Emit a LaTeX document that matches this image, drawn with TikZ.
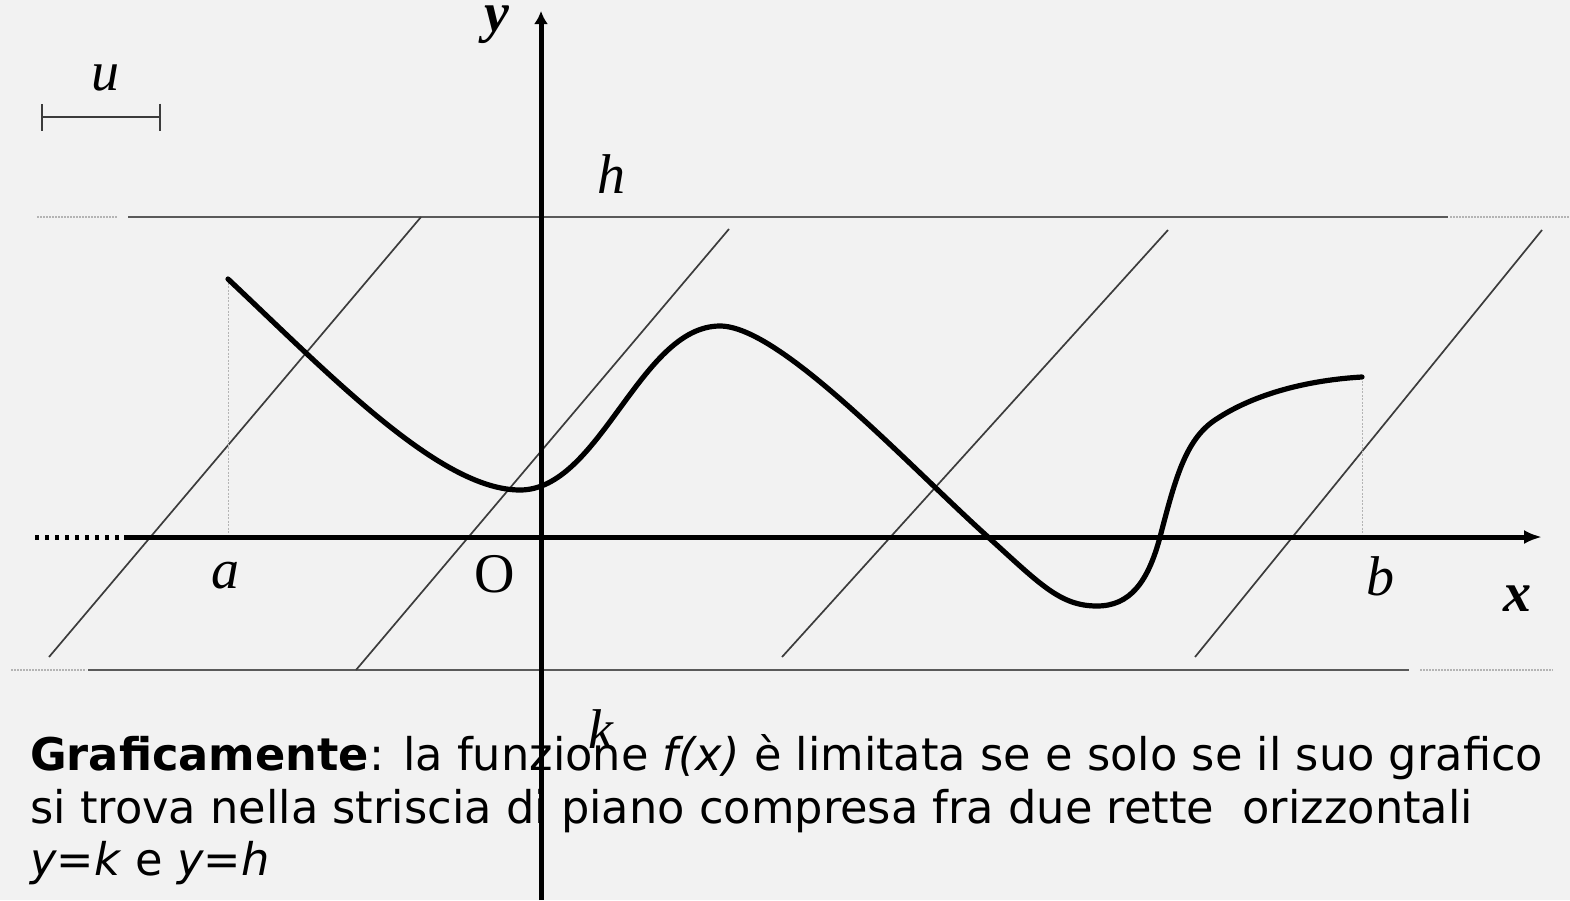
\documentclass[tikz,border=0pt]{standalone}
\usepackage{fontspec}
\setmainfont{Liberation Serif}
\newfontfamily\txtfont[FakeStretch=0.993]{DejaVu Sans}
\usetikzlibrary{arrows.meta}
\definecolor{bgc}{HTML}{F2F2F2}
\definecolor{linec}{HTML}{5A5A5A}
\definecolor{diagc}{HTML}{3C3C3C}
\definecolor{dotc}{HTML}{B4B4B4}
\tikzset{
  axisline/.style={line width=5pt, black},
  curveline/.style={line width=5.2pt, black, line cap=round},
  boundline/.style={line width=2.8pt, linec},
  boundext/.style={line width=1.5pt, dotc, dash pattern=on 2pt off 1pt},
  diagline/.style={line width=1.7pt, diagc},
  dropline/.style={line width=1pt, dotc, dash pattern=on 2pt off 1.5pt},
  lbl/.style={font=\fontsize{56}{56}\selectfont\itshape, inner sep=0pt, anchor=base west},
  txt/.style={font=\txtfont\fontsize{45}{53}\selectfont, inner sep=0pt, anchor=base west}
}
\begin{document}
\begin{tikzpicture}[x=1pt, y=-1pt]
\useasboundingbox (0,0) rectangle (1570,900);
\fill[bgc] (0,0) rectangle (1570,900);

% text paragraph
\node[txt] (t1) at (30,770) {\textbf{Graficamente}: la funzione \textit{f(x)} è limitata se e solo se il suo grafico};
\node[txt] (t2) at (30,823) {si trova nella striscia di piano compresa fra due rette \ orizzontali};
\node[txt] (t3) at (30,875) {\textit{y=k} e \textit{y=h}};

% bounding lines h and k
\coordinate (hL0) at (37,217); \coordinate (hL1) at (117,217);
\coordinate (hA) at (128,217); \coordinate (hB) at (1448,217);
\coordinate (hR0) at (1450,217); \coordinate (hR1) at (1570,217);
\draw[boundext] (hL0) -- (hL1);
\draw[boundline] (hA) -- (hB);
\draw[boundext] (hR0) -- (hR1);
\coordinate (kL0) at (11,670); \coordinate (kL1) at (86,670);
\coordinate (kA) at (88,670); \coordinate (kB) at (1409,670);
\coordinate (kR0) at (1420,670); \coordinate (kR1) at (1553,670);
\draw[boundext] (kL0) -- (kL1);
\draw[boundline] (kA) -- (kB);
\draw[boundext] (kR0) -- (kR1);

% diagonal hatching
\coordinate (d1a) at (49,657);   \coordinate (d1b) at (421,217);
\coordinate (d2a) at (356,670);  \coordinate (d2b) at (729,229);
\coordinate (d3a) at (782,657);  \coordinate (d3b) at (1168,230);
\coordinate (d4a) at (1195,657); \coordinate (d4b) at (1542,230);
\draw[diagline] (d1a) -- (d1b);
\draw[diagline] (d2a) -- (d2b);
\draw[diagline] (d3a) -- (d3b);
\draw[diagline] (d4a) -- (d4b);

% drop lines at a and b
\coordinate (pa) at (228,279); \coordinate (qa) at (228,537);
\coordinate (pb) at (1362,377); \coordinate (qb) at (1362,537);
\draw[dropline] (pa) -- (qa);
\draw[dropline] (pb) -- (qb);

% x axis
\coordinate (xd0) at (35,537); \coordinate (xd1) at (122,537);
\coordinate (x0) at (124,537); \coordinate (x1) at (1542,537);
\draw[line width=5pt, dash pattern=on 4pt off 6pt] (xd0) -- (xd1);
\draw[axisline, -{Latex[length=18pt,width=14pt]}] (x0) -- (x1);

% y axis
\coordinate (y0) at (541,900); \coordinate (y1) at (541,11);
\draw[axisline, -{Latex[length=13pt,width=14pt]}] (y0) -- (y1);

% curve
\draw[curveline] (pa) .. controls (330,375) and (440,490) .. (520,490)
  .. controls (600,490) and (640,326) .. (720,326)
  .. controls (780,326) and (908,465) .. (988,537)
  .. controls (1040,584) and (1060,606) .. (1097,606)
  .. controls (1130,606) and (1148,582) .. (1160,537)
  .. controls (1175,480) and (1185,440) .. (1215,420)
  .. controls (1255,393) and (1310,380) .. (pb);

% unit bar
\coordinate (u0) at (41,117); \coordinate (u1) at (161,117);
\draw[line width=2pt, diagc, {Bar[width=27pt]}-{Bar[width=27pt]}] (u0) -- (u1);

% labels
\node[lbl] (lu) at (91,90) {u};
\node[lbl, font=\fontsize{56}{56}\selectfont\bfseries\itshape] (ly) at (484,31) {y};
\node[lbl] (lh) at (597,193) {h};
\node[lbl] (la) at (211,588) {a};
\node[lbl, font=\fontsize{56}{56}\selectfont] (lO) at (474,592) {O};
\node[lbl] (lb) at (1366,595) {b};
\node[lbl, font=\fontsize{56}{56}\selectfont\bfseries\itshape] (lx) at (1503,611) {x};
\node[lbl] (lk) at (588,748) {k};
\end{tikzpicture}
\end{document}
